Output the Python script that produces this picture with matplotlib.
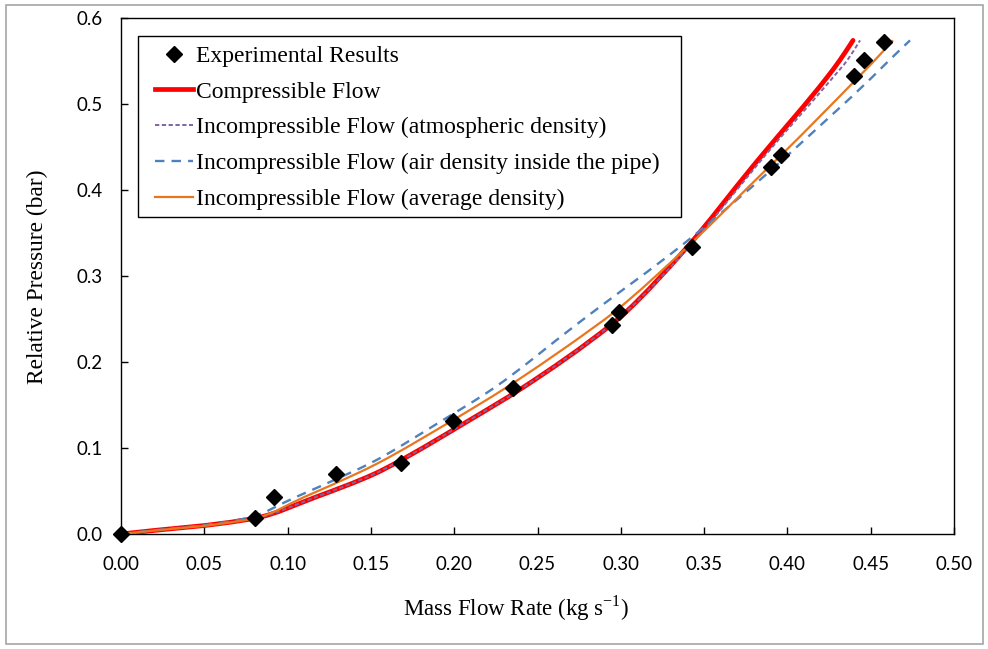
import matplotlib
matplotlib.use("Agg")
import numpy as np
import matplotlib.pyplot as plt
from matplotlib.patches import Rectangle, PathPatch
from matplotlib.path import Path
from matplotlib.lines import Line2D
from matplotlib.ticker import MultipleLocator, FormatStrFormatter

# ---- data ----
exp_flow = [0.0, 0.0804, 0.0918, 0.129, 0.168, 0.199, 0.235, 0.295, 0.299,
            0.343, 0.390, 0.396, 0.440, 0.446, 0.458]
exp_pressure = [0.0, 0.0186, 0.043, 0.0698, 0.0826, 0.131, 0.170, 0.243, 0.258,
                0.334, 0.427, 0.441, 0.533, 0.551, 0.572]

model_pressure = [0.0, 0.0186, 0.043, 0.0698, 0.0826, 0.131, 0.170, 0.243, 0.258,
                  0.334, 0.427, 0.441, 0.531, 0.551, 0.574]
compressible_flow = [0.0, 0.081, 0.117, 0.152, 0.165, 0.208, 0.241, 0.294, 0.303,
                     0.340, 0.379, 0.385, 0.4238, 0.4315, 0.4394]
atmospheric_flow = [0.0, 0.081, 0.117, 0.152, 0.165, 0.208, 0.241, 0.294, 0.303,
                    0.341, 0.381, 0.387, 0.4274, 0.436, 0.4436]
pipe_density_flow = [0.0, 0.076, 0.105, 0.136, 0.150, 0.192, 0.224, 0.273, 0.2832,
                     0.3355, 0.3925, 0.4005, 0.4508, 0.4612, 0.4736]
average_density_flow = [0.0, 0.081, 0.110, 0.141, 0.1545, 0.198, 0.231, 0.2857, 0.296,
                        0.340, 0.389, 0.3965, 0.4425, 0.4525, 0.4634]

labels = ["Experimental Results", "Compressible Flow",
          "Incompressible Flow (atmospheric density)",
          "Incompressible Flow (air density inside the pipe)",
          "Incompressible Flow (average density)"]

serif = ["Liberation Serif", "DejaVu Serif"]
tickfont = ["Lato", "Open Sans", "DejaVu Sans"]

W, H = 988, 649


def smooth_path(xs, ys):
    """Smoothed line drawn as cubic Bezier segments through the data points
    (monotone Hermite tangents, so no overshoot)."""
    x = np.asarray(xs, float)
    y = np.asarray(ys, float)
    h = np.diff(x)
    d = np.diff(y) / h
    n = len(x)
    m = np.zeros(n)
    m[0], m[-1] = d[0], d[-1]
    for k in range(1, n - 1):
        if d[k - 1] * d[k] <= 0:
            m[k] = 0.0
        else:
            w1 = 2 * h[k] + h[k - 1]
            w2 = h[k] + 2 * h[k - 1]
            m[k] = (w1 + w2) / (w1 / d[k - 1] + w2 / d[k])
    verts = [(x[0], y[0])]
    codes = [Path.MOVETO]
    for k in range(n - 1):
        t = h[k] / 3.0
        verts += [(x[k] + t, y[k] + m[k] * t),
                  (x[k + 1] - t, y[k + 1] - m[k + 1] * t),
                  (x[k + 1], y[k + 1])]
        codes += [Path.CURVE4] * 3
    return Path(verts, codes)


def fig_rect(x0, y0, x1, y1, **kw):
    return Rectangle((x0 / W, 1 - y1 / H), (x1 - x0) / W, (y1 - y0) / H,
                     transform=fig.transFigure, fill=False, **kw)


fig = plt.figure(figsize=(W / 100, H / 100), dpi=100)
ax = fig.add_axes([121 / W, 1 - 534 / H, (954 - 121) / W, (534 - 18) / H])

# outer grey frame
fig.patches.append(fig_rect(6, 5, 983, 644, edgecolor="#a6a6a6", linewidth=1.2))

styles = [
    (compressible_flow, dict(color="#ff0000", lw=3.4, ls="-", capstyle="round"), 3),
    (atmospheric_flow, dict(color="#8064a2", lw=1.4, ls=(0, (2.2, 1.3))), 4),
    (pipe_density_flow, dict(color="#4f81bd", lw=1.7, ls=(0, (4, 3))), 4),
    (average_density_flow, dict(color="#e8761e", lw=1.6, ls="-"), 5),
]
proxies = []
for xs, st, z in styles:
    patch = PathPatch(smooth_path(xs, model_pressure), fill=False,
                      edgecolor=st["color"], linewidth=st["lw"], linestyle=st["ls"],
                      capstyle=st.get("capstyle", "butt"), zorder=z)
    ax.add_patch(patch)
    proxies.append(Line2D([], [], color=st["color"], lw=st["lw"], ls=st["ls"]))

ax.plot(exp_flow, exp_pressure, ls="none", marker="D", ms=8, color="black",
        zorder=6, clip_on=False)
exp_proxy = Line2D([], [], ls="none", marker="D", ms=8, color="black")

ax.set_xlim(0, 0.5)
ax.set_ylim(0, 0.6)
ax.xaxis.set_major_locator(MultipleLocator(0.05))
ax.yaxis.set_major_locator(MultipleLocator(0.1))
ax.xaxis.set_major_formatter(FormatStrFormatter("%.2f"))
ax.yaxis.set_major_formatter(FormatStrFormatter("%.1f"))
ax.tick_params(direction="in", length=5, width=1, labelsize=13.5)
ax.tick_params(axis="x", pad=16)
ax.tick_params(axis="y", pad=13)
for lab in ax.get_xticklabels() + ax.get_yticklabels():
    lab.set_family(tickfont)
for s in ax.spines.values():
    s.set_linewidth(1.0)
    s.set_color("black")

fig.text(516 / W, 1 - 608 / H, "Mass Flow Rate (kg s$^{\\mathregular{-1}}$)",
         family=serif, fontsize=16.5, ha="center", va="center")
fig.text(37 / W, 1 - 277 / H, "Relative Pressure (bar)", family=serif,
         fontsize=16.8, rotation=90, ha="center", va="center")

# legend frame drawn separately, legend content placed inside it
fig.patches.append(fig_rect(138, 36, 681, 217, edgecolor="black", linewidth=1.0,
                            facecolor="white", zorder=7))
leg = fig.legend([exp_proxy] + proxies, labels,
                 loc="upper left", bbox_to_anchor=(155 / W, 1 - 45.5 / H),
                 prop={"family": serif, "size": 17}, frameon=False,
                 handlelength=1.61, handletextpad=0.13, labelspacing=0.6,
                 borderpad=0, borderaxespad=0)
leg.set_zorder(8)

fig.savefig("out.png", dpi=100)
